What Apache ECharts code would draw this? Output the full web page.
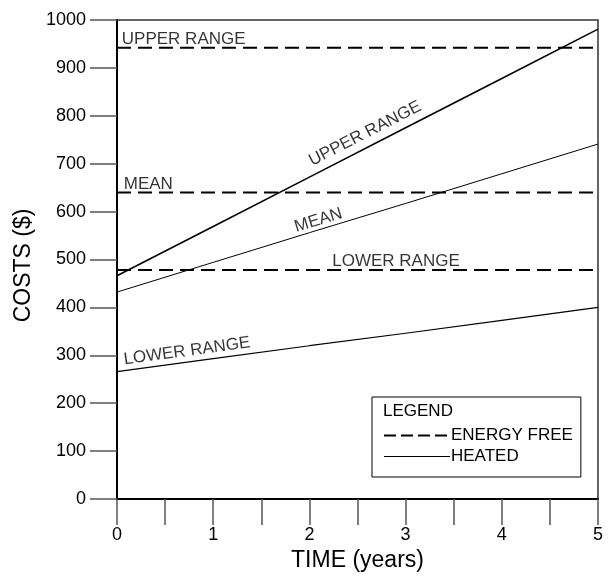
<!DOCTYPE html>
<html>
<head>
<meta charset="utf-8">
<script src="https://cdn.jsdelivr.net/npm/echarts@6/dist/echarts.min.js"></script>
<style>
html,body{margin:0;padding:0;background:#fff;}
#main{width:613px;height:578px;}
</style>
</head>
<body>
<div id="main"></div>
<script>
// ---- data ----
var years = [0, 1, 2, 3, 4, 5];
var heatedUpper = [466, 569, 672, 775, 878, 981];
var heatedMean  = [432, 494, 556, 617, 679, 741];
var heatedLower = [266, 293, 320, 346, 373, 400];
var freeUpper = 942;
var freeMean  = 640;
var freeLower = 478;
var xRange = [0, 5];
// annotation texts: [x, y, text, rotate, align]
var annotations = [
  [0.05, freeUpper, 'UPPER RANGE', 0, 'left'],
  [0.07, freeMean, 'MEAN', 0, 'left'],
  [2.9, freeLower, 'LOWER RANGE', 0, 'center'],
  [2.62, 747, 'UPPER RANGE', 27, 'center'],
  [2.12, 565, 'MEAN', 17, 'center'],
  [0.74, 291, 'LOWER RANGE', 7.7, 'center']
];

var FONT = "'Liberation Sans', Arial, Helvetica, sans-serif";

function pairs(vals) { return years.map(function (y, i) { return [y, vals[i]]; }); }
function flat(v) { return [[xRange[0], v], [xRange[1], v]]; }

var dashStyle = { color: '#000', width: 2, type: [14, 7] };
var noMarker = { color: 'rgba(0,0,0,0)', borderColor: 'rgba(0,0,0,0)', borderWidth: 0 };

var series = [
  { name: 'ENERGY FREE', type: 'line', data: flat(freeUpper), showSymbol: false, symbol: 'none', lineStyle: dashStyle, itemStyle: { color: '#000' }, silent: true },
  { name: 'ENERGY FREE', type: 'line', data: flat(freeMean), showSymbol: false, symbol: 'none', lineStyle: dashStyle, itemStyle: { color: '#000' }, silent: true },
  { name: 'ENERGY FREE', type: 'line', data: flat(freeLower), showSymbol: false, symbol: 'none', lineStyle: dashStyle, itemStyle: { color: '#000' }, silent: true },
  { name: 'HEATED', type: 'line', data: pairs(heatedUpper), showSymbol: false, symbol: 'none', lineStyle: { color: '#000', width: 1.6 }, itemStyle: { color: '#000' }, silent: true },
  { name: 'HEATED', type: 'line', data: pairs(heatedMean), showSymbol: false, symbol: 'none', lineStyle: { color: '#000', width: 1 }, itemStyle: { color: '#000' }, silent: true },
  { name: 'HEATED', type: 'line', data: pairs(heatedLower), showSymbol: false, symbol: 'none', lineStyle: { color: '#000', width: 1.2 }, itemStyle: { color: '#000' }, silent: true },
  {
    name: 'labels', type: 'scatter', symbolSize: 1, silent: true,
    itemStyle: { color: 'rgba(0,0,0,0)' },
    data: annotations.map(function (a) {
      return {
        value: [a[0], a[1]],
        label: {
          show: true, position: 'inside', formatter: a[2], rotate: a[3],
          align: a[4], verticalAlign: 'bottom',
          color: '#000', fontSize: 17, fontFamily: FONT, lineHeight: 17
        }
      };
    })
  }
];

var chart = echarts.init(document.getElementById('main'), null, { renderer: 'canvas' });
chart.setOption({
  animation: false,
  backgroundColor: '#fff',
  grid: { left: 117, right: 15, top: 20, bottom: 79, show: true, borderColor: '#333', borderWidth: 1.5, backgroundColor: 'transparent' },
  title: {
    text: 'LEGEND', left: 383, top: 403, padding: 0, z: 10,
    textStyle: { fontFamily: FONT, fontSize: 17, fontWeight: 'normal', color: '#000' }
  },
  legend: {
    data: [
      { name: 'ENERGY FREE', lineStyle: { type: [12, 5], width: 2, color: '#000' }, itemStyle: noMarker },
      { name: 'HEATED', lineStyle: { width: 1, color: '#000' }, itemStyle: noMarker }
    ],
    orient: 'vertical', left: 372, top: 397,
    padding: [30, 8, 12, 11],
    itemWidth: 66, itemHeight: 14, itemGap: 4,
    itemStyle: noMarker,
    borderColor: '#000', borderWidth: 1, backgroundColor: '#fff',
    selectedMode: false,
    textStyle: { fontFamily: FONT, fontSize: 17, color: '#000', padding: [0, 0, 0, -4] }
  },
  xAxis: {
    type: 'value', min: 0, max: 5, interval: 1,
    name: 'TIME (years)', nameLocation: 'middle', nameGap: 49,
    nameTextStyle: { fontFamily: FONT, fontSize: 23, color: '#000' },
    axisLine: { show: true, onZero: false, lineStyle: { color: '#000', width: 2 } },
    axisTick: { show: true, inside: false, length: 26, lineStyle: { color: '#555', width: 1.5 } },
    minorTick: { show: true, splitNumber: 2, length: 26, lineStyle: { color: '#555', width: 1.5 } },
    axisLabel: { margin: 27, fontFamily: FONT, fontSize: 18, color: '#000' },
    splitLine: { show: false }
  },
  yAxis: {
    type: 'value', min: 0, max: 1000, interval: 100,
    name: 'COSTS ($)', nameLocation: 'middle', nameGap: 71,
    nameTextStyle: { fontFamily: FONT, fontSize: 23, color: '#000', padding: [0, 12, 0, 0] },
    axisLine: { show: true, onZero: false, lineStyle: { color: '#000', width: 2 } },
    axisTick: { show: true, inside: false, length: 27, lineStyle: { color: '#555', width: 1.5 } },
    axisLabel: { margin: 31, fontFamily: FONT, fontSize: 18, color: '#000', formatter: function (v) { return String(v); } },
    splitLine: { show: false }
  },
  series: series
});
</script>
</body>
</html>
